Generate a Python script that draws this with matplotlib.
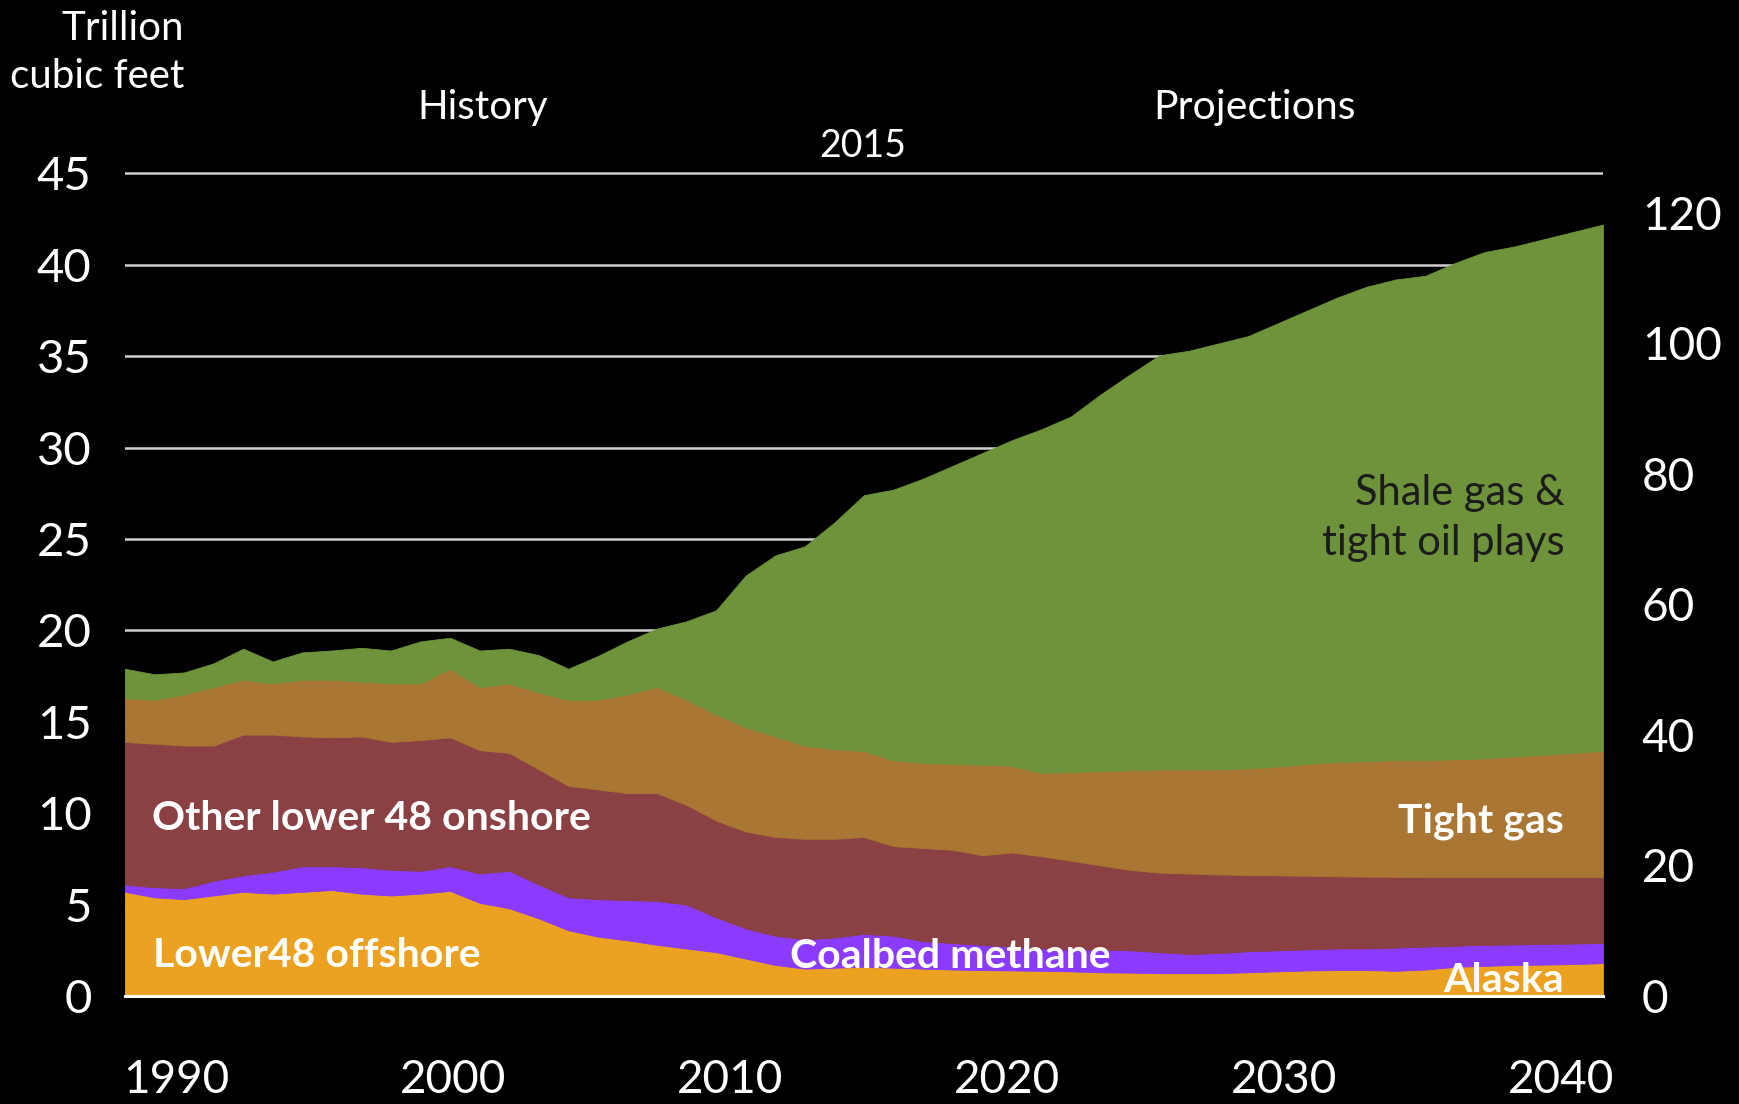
import numpy as np
import matplotlib
matplotlib.use("Agg")
import matplotlib.pyplot as plt

plt.rcParams['font.family'] = ['Lato', 'DejaVu Sans']

years = np.arange(1990, 2041)

# trillion cubic feet (layer thickness, bottom to top)
offshore = [5.7, 5.4, 5.3, 5.5, 5.7, 5.6, 5.7, 5.8, 5.6, 5.5,
            5.6, 5.75, 5.1, 4.8, 4.25, 3.6, 3.25, 3.05, 2.8, 2.6,
            2.4, 2.05, 1.7, 1.5, 1.55, 1.6, 1.55, 1.5, 1.45, 1.42,
            1.4, 1.38, 1.35, 1.3, 1.28, 1.25, 1.25, 1.25, 1.3, 1.35,
            1.4, 1.42, 1.42, 1.38, 1.45, 1.6, 1.65, 1.7, 1.72, 1.75, 1.8]
coalbed = [0.4, 0.55, 0.6, 0.8, 0.9, 1.2, 1.4, 1.3, 1.45, 1.4,
           1.25, 1.35, 1.6, 2.05, 1.85, 1.8, 2.05, 2.2, 2.4, 2.4,
           1.9, 1.65, 1.6, 1.6, 1.65, 1.8, 1.75, 1.5, 1.45, 1.38,
           1.3, 1.22, 1.2, 1.25, 1.22, 1.15, 1.05, 1.1, 1.15, 1.15,
           1.15, 1.18, 1.18, 1.27, 1.25, 1.15, 1.15, 1.12, 1.13, 1.12, 1.1]
other_onshore = [7.8, 7.85, 7.8, 7.4, 7.7, 7.5, 7.1, 7.05, 7.15, 7.0,
                 7.15, 7.05, 6.75, 6.45, 6.3, 6.1, 6.0, 5.85, 5.9, 5.45,
                 5.3, 5.3, 5.4, 5.5, 5.4, 5.3, 4.9, 5.1, 5.1, 4.9,
                 5.15, 5.05, 4.85, 4.6, 4.4, 4.35, 4.4, 4.3, 4.17, 4.1,
                 4.03, 3.95, 3.93, 3.87, 3.8, 3.75, 3.7, 3.68, 3.65, 3.63, 3.6]
tight_gas = [2.4, 2.4, 2.8, 3.2, 3.0, 2.8, 3.1, 3.15, 3.0, 3.2,
             3.1, 3.75, 3.45, 3.8, 4.2, 4.7, 4.9, 5.4, 5.8, 5.75,
             5.8, 5.7, 5.5, 5.1, 4.9, 4.7, 4.7, 4.65, 4.7, 4.95,
             4.75, 4.55, 4.85, 5.15, 5.45, 5.65, 5.7, 5.75, 5.83, 5.95,
             6.12, 6.25, 6.32, 6.38, 6.4, 6.45, 6.5, 6.6, 6.7, 6.8, 6.9]
shale = [1.6, 1.4, 1.2, 1.3, 1.7, 1.2, 1.5, 1.6, 1.85, 1.8,
         2.3, 1.7, 2.0, 1.9, 2.05, 1.7, 2.4, 2.9, 3.2, 4.3,
         5.7, 8.3, 9.9, 10.9, 12.4, 14.0, 14.8, 15.55, 16.3, 17.05,
         17.8, 18.8, 19.45, 20.6, 21.65, 22.65, 22.9, 23.3, 23.65, 24.25,
         24.8, 25.4, 25.95, 26.3, 26.5, 27.15, 27.7, 27.9, 28.2, 28.5, 28.8]

colors = ['#eca121', '#8a3bff', '#8b4043', '#a97633', '#6f933b']

left_ticks = [0, 5, 10, 15, 20, 25, 30, 35, 40, 45]
right_ticks = [0, 20, 40, 60, 80, 100, 120]
year_ticks = [1990, 2000, 2010, 2020, 2030, 2040]
bcf_per_tcf = 2.8

fig = plt.figure(figsize=(17.4, 11.04), dpi=100, facecolor='black')
ax = fig.add_axes([0.0718, 0.0978, 0.8494, 0.7617])
ax.set_facecolor('black')

polys = ax.stackplot(years, offshore, coalbed, other_onshore, tight_gas, shale,
                     colors=colors, lw=0)
for p in polys:
    p.set_edgecolor(p.get_facecolor())
    p.set_linewidth(0.6)

ax.set_xlim(1990, 2040)
ax.set_ylim(0, 46)
ax.set_yticks(left_ticks)
ax.set_xticks([])
ax.yaxis.grid(True, color='#cfcfcf', lw=1.8)
ax.set_axisbelow(True)
ax.tick_params(axis='y', length=0, pad=24, labelsize=34, colors='white')
for s in ax.spines.values():
    s.set_visible(False)
ax.axhline(0, color='white', lw=2.2, clip_on=False, zorder=3)

# right axis in billion cubic feet per day
ax_r = ax.secondary_yaxis('right', functions=(lambda v: v * bcf_per_tcf,
                                              lambda v: v / bcf_per_tcf))
ax_r.set_yticks(right_ticks)
ax_r.tick_params(length=0, pad=28, labelsize=33, colors='white')
ax_r.spines['right'].set_visible(False)

# year labels
ax_b = ax.secondary_xaxis('bottom', functions=(lambda x: 1988.16 + (x - 1990) * 1.0672,
                                               lambda u: 1990 + (u - 1988.16) / 1.0672))
ax_b.set_xticks(year_ticks)
ax_b.tick_params(length=0, pad=45, labelsize=33, colors='white')
ax_b.spines['bottom'].set_visible(False)

ax.text(2002.1, 48.0, 'History', ha='center', va='baseline', color='white', fontsize=29)
ax.text(2028.2, 48.0, 'Projections', ha='center', va='baseline', color='white', fontsize=29.5)
ax.text(2014.97, 45.9, '2015', ha='center', va='baseline', color='white', fontsize=27)

fig.text(0.1057, 0.9638, 'Trillion', ha='right', va='baseline', color='white', fontsize=29)
fig.text(0.1057, 0.9203, 'cubic feet', ha='right', va='baseline', color='white', fontsize=29)

lab = dict(color='white', fontsize=29.5, fontweight='bold', va='baseline')
ax.text(1990.9, 9.08, 'Other lower 48 onshore', ha='left', **lab)
ax.text(1990.95, 1.59, 'Lower48 offshore', ha='left', **lab)
ax.text(2012.5, 1.53, 'Coalbed methane', ha='left', **lab)
ax.text(2038.68, 0.22, 'Alaska', ha='right', **lab)
ax.text(2038.68, 8.97, 'Tight gas', ha='right', **lab)
ax.text(2038.7, 26.86, 'Shale gas &', ha='right', va='baseline', color='#1c1c1c', fontsize=30)
ax.text(2038.7, 24.1, 'tight oil plays', ha='right', va='baseline', color='#1c1c1c', fontsize=30)

fig.savefig('out.png', dpi=100, facecolor='black')
